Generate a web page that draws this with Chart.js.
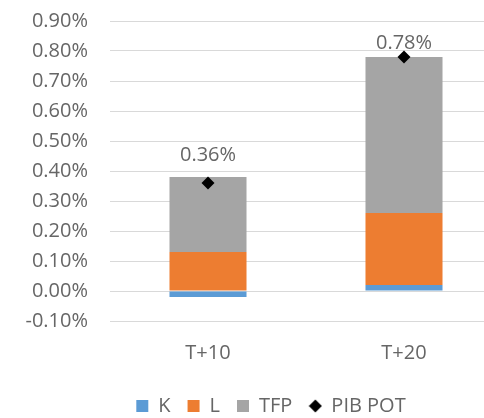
<!DOCTYPE html>
<html>
<head>
<meta charset="utf-8">
<script src="https://cdn.jsdelivr.net/npm/chart.js@4"></script>
<style>
  html, body { margin: 0; padding: 0; background: #fff; overflow: hidden; }
  #wrap { width: 540px; height: 418px; }
</style>
</head>
<body>
<div id="wrap"><canvas id="chart1"></canvas></div>
<script>
const labels = ['T+10', 'T+20'];
const kValues = [-0.02, 0.02];
const lValues = [0.13, 0.24];
const tfpValues = [0.25, 0.52];
const pibPot = [0.36, 0.78];

const font = 'Open Sans';
const textColor = '#666666';

// little diamond for the legend entry
const diamond = document.createElement('canvas');
diamond.width = 14;
diamond.height = 14;
const dctx = diamond.getContext('2d');
dctx.fillStyle = '#000';
dctx.beginPath();
dctx.moveTo(7, 0.5);
dctx.lineTo(13.5, 7);
dctx.lineTo(7, 13.5);
dctx.lineTo(0.5, 7);
dctx.closePath();
dctx.fill();

const pointLabels = {
  id: 'pointLabels',
  afterLayout(chart) {
    // legend sits a bit right of centre in the original
    chart.legend.left += 20;
    chart.legend.right += 20;
  },
  afterDatasetsDraw(chart) {
    const ctx = chart.ctx;
    const meta = chart.getDatasetMeta(3);
    const offsets = [28, 14];
    ctx.save();
    ctx.font = '20px "' + font + '"';
    ctx.fillStyle = textColor;
    ctx.textAlign = 'center';
    ctx.textBaseline = 'middle';
    meta.data.forEach((pt, i) => {
      ctx.fillText(pibPot[i].toFixed(2) + '%', pt.x, pt.y - offsets[i]);
    });
    ctx.restore();
  }
};

const ctx = document.getElementById('chart1').getContext('2d');
const myChart = new Chart(ctx, {
  type: 'bar',
  data: {
    labels: labels,
    datasets: [
      { label: 'K', data: kValues, backgroundColor: '#5B9BD5', order: 2 },
      { label: 'L', data: lValues, backgroundColor: '#ED7D31', order: 2 },
      { label: 'TFP', data: tfpValues, backgroundColor: '#A5A5A5', order: 2 },
      {
        label: 'PIB POT',
        type: 'line',
        data: pibPot,
        showLine: false,
        pointStyle: 'rectRot',
        pointRadius: 6.5,
        backgroundColor: '#000',
        borderColor: '#000',
        borderWidth: 0,
        order: 1
      }
    ]
  },
  plugins: [pointLabels],
  options: {
    responsive: true,
    maintainAspectRatio: false,
    animation: false,
    datasets: {
      bar: { categoryPercentage: 1, barPercentage: 0.393, stack: 's' }
    },
    layout: { padding: { top: 21, right: 38, bottom: -8, left: 0 } },
    plugins: {
      tooltip: { enabled: false },
      legend: {
        position: 'bottom',
        labels: {
          usePointStyle: true,
          boxWidth: 12,
          boxHeight: 12,
          padding: 17,
          color: textColor,
          font: { family: font, size: 20 },
          sort: (a, b) => a.datasetIndex - b.datasetIndex,
          generateLabels(chart) {
            const items = Chart.defaults.plugins.legend.labels.generateLabels(chart);
            items.forEach(it => {
              if (it.datasetIndex === 3) it.pointStyle = diamond;
              else it.pointStyle = 'rect';
            });
            return items;
          }
        }
      }
    },
    scales: {
      x: {
        stacked: true,
        grid: { display: false },
        border: { display: false },
        ticks: { color: textColor, font: { family: font, size: 20 }, padding: 12 },
        afterFit(scale) { scale.height = 58; }
      },
      y: {
        stacked: true,
        min: -0.1,
        max: 0.9,
        grid: { color: '#d9d9d9', drawTicks: false },
        border: { display: false },
        ticks: {
          stepSize: 0.1,
          padding: 22,
          color: textColor,
          font: { family: font, size: 20 },
          callback: v => v.toFixed(2) + '%'
        },
        afterFit(scale) {
          scale.width = 110;
          scale.paddingTop = 0;
          scale.paddingBottom = 0;
        }
      }
    }
  }
});
</script>
</body>
</html>
